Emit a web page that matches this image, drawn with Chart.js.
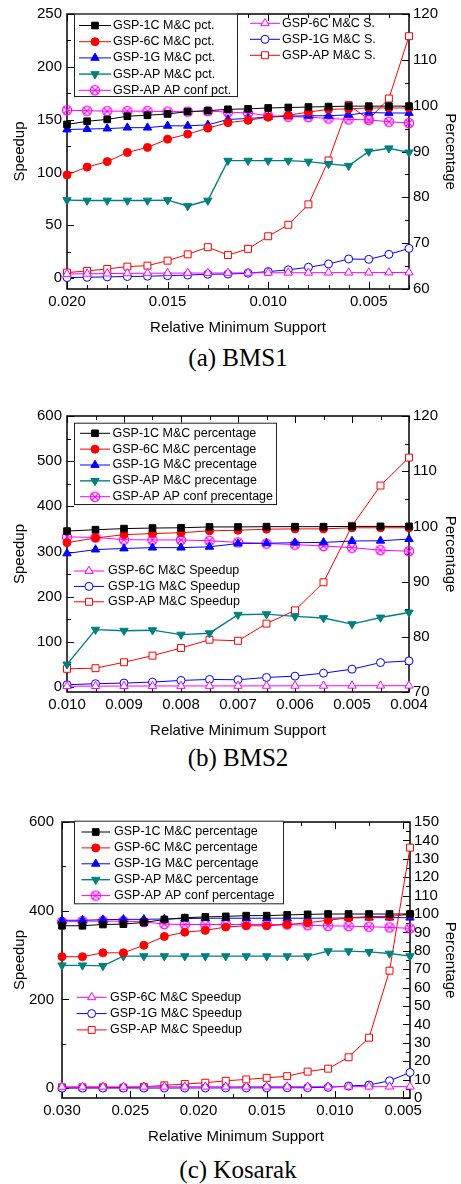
<!DOCTYPE html>
<html lang="en">
<head>
<meta charset="utf-8" />
<title>Speedup and percentage vs relative minimum support</title>
<script src="https://cdn.jsdelivr.net/npm/chart.js@4.4.0/dist/chart.umd.min.js"></script>
<style>
  body { margin: 0; background: #fff; width: 461px; height: 1184px; position: relative; overflow: hidden; }
  canvas { position: absolute; left: 0; }
  .caption {
    position: absolute; left: 0; width: 476px; text-align: center;
    font-family: "Liberation Serif", serif; font-size: 25px; line-height: 30px; color: #000;
  }
</style>
</head>
<body>
  <canvas id="chartA" width="461" height="340" style="top:0px"></canvas>
  <div class="caption" style="top:343px">(a) BMS1</div>
  <canvas id="chartB" width="461" height="341" style="top:402px"></canvas>
  <div class="caption" style="top:743px">(b) BMS2</div>
  <canvas id="chartC" width="461" height="344" style="top:805px"></canvas>
  <div class="caption" style="top:1155px">(c) Kosarak</div>

<script>
// ---------- (a) BMS1 ----------
const xA = [0.020, 0.019, 0.018, 0.017, 0.016, 0.015, 0.014, 0.013, 0.012, 0.011, 0.010, 0.009, 0.008, 0.007, 0.006, 0.005, 0.004, 0.003];
const a1C   = [95.9, 96.6, 97.0, 97.7, 97.9, 98.2, 98.7, 98.9, 99.2, 99.3, 99.5, 99.6, 99.7, 99.8, 99.9, 99.9, 99.9, 99.9];
const a6C   = [84.9, 86.6, 87.8, 89.8, 90.9, 92.7, 93.8, 95.1, 96.3, 96.8, 97.5, 97.9, 98.6, 99.2, 99.3, 99.5, 99.5, 99.5];
const a1G   = [94.8, 94.9, 95.0, 95.2, 95.2, 95.6, 95.6, 95.8, 97.0, 97.2, 97.5, 97.7, 97.8, 97.8, 98.0, 98.5, 98.4, 98.4];
const aAP   = [79.4, 79.3, 79.3, 79.3, 79.3, 79.4, 78.1, 79.3, 88.0, 88.0, 88.0, 88.0, 87.8, 87.3, 86.9, 90.0, 90.7, 89.8];
const aConf = [99.0, 98.9, 98.8, 98.8, 98.8, 98.7, 98.7, 98.8, 98.6, 98.4, 97.8, 97.6, 97.5, 97.2, 97.0, 96.9, 96.5, 96.2];
const a6Cs  = [3.9, 4.1, 4.3, 4.5, 4.6, 4.7, 4.8, 4.8, 4.9, 5.0, 5.0, 5.1, 5.1, 5.2, 5.2, 5.2, 5.3, 5.3];
const a1Gs  = [0.5, 0.8, 1.2, 1.5, 1.8, 2.3, 2.9, 3.7, 3.8, 4.7, 6.2, 7.8, 10.3, 13.4, 18.1, 17.8, 22.5, 28.1];
const aAPs  = [5.2, 6.8, 8.7, 10.9, 11.8, 16.5, 22.5, 29.3, 21.8, 27.7, 39.6, 50.5, 69.8, 111.4, 163.8, 150.3, 170.0, 229.0];
const labelsA = ["GSP-1C M&C pct.", "GSP-6C M&C pct.", "GSP-1G M&C pct.", "GSP-AP M&C pct.", "GSP-AP AP conf pct.",
                 "GSP-6C M&C S.", "GSP-1G M&C S.", "GSP-AP M&C S."];
const xTicksA = [0.020, 0.015, 0.010, 0.005];
const yTicksA = [0, 50, 100, 150, 200, 250];
const y1TicksA = [60, 70, 80, 90, 100, 110, 120];

// ---------- (b) BMS2 ----------
const xB = [0.010, 0.0095, 0.009, 0.0085, 0.008, 0.0075, 0.007, 0.0065, 0.006, 0.0055, 0.005, 0.0045, 0.004];
const b1C   = [99.15, 99.4, 99.6, 99.7, 99.75, 99.9, 99.9, 99.95, 99.95, 99.95, 100.0, 100.0, 100.0];
const b6C   = [97.05, 97.9, 98.5, 98.7, 98.85, 99.2, 99.3, 99.5, 99.55, 99.55, 99.75, 99.75, 99.75];
const b1G   = [95.1, 95.8, 96.0, 96.15, 96.15, 96.3, 96.9, 96.95, 97.05, 97.1, 97.35, 97.4, 97.7];
const bAP   = [75.0, 81.3, 81.1, 81.2, 80.4, 80.65, 84.0, 84.1, 83.7, 83.4, 82.3, 83.5, 84.4];
const bConf = [98.1, 98.0, 97.6, 97.55, 97.55, 97.4, 97.1, 96.9, 96.7, 96.45, 96.15, 95.7, 95.5];
const b6Cs  = [1.8, 2.0, 2.1, 2.3, 2.4, 2.4, 2.5, 2.6, 2.7, 2.8, 2.9, 3.0, 3.0];
const b1Gs  = [5.1, 7.3, 8.8, 11.0, 14.6, 16.8, 16.1, 21.2, 24.1, 30.7, 39.5, 54.2, 57.8];
const bAPs  = [40.3, 41.7, 54.8, 69.5, 86.4, 104.6, 102.4, 140.4, 169.7, 231.8, 356.8, 446.0, 508.0];
const labelsB = ["GSP-1C M&C percentage", "GSP-6C M&C percentage", "GSP-1G M&C precentage", "GSP-AP M&C precentage",
                 "GSP-AP AP conf precentage", "GSP-6C M&C Speedup", "GSP-1G M&C Speedup", "GSP-AP M&C Speedup"];
const xTicksB = [0.010, 0.009, 0.008, 0.007, 0.006, 0.005, 0.004];
const yTicksB = [0, 100, 200, 300, 400, 500, 600];
const y1TicksB = [70, 80, 90, 100, 110, 120];

// ---------- (c) Kosarak ----------
const xC = [0.030, 0.0285, 0.027, 0.0255, 0.024, 0.0225, 0.021, 0.0195, 0.018, 0.0165, 0.015, 0.0135, 0.012, 0.0105, 0.009, 0.0075, 0.006, 0.0045];
const c1C   = [93.6, 93.6, 94.3, 94.5, 95.4, 97.0, 98.0, 98.4, 98.7, 99.1, 99.1, 99.5, 99.8, 100.0, 100.0, 100.0, 100.0, 100.0];
const c6C   = [76.8, 76.8, 78.9, 78.9, 83.0, 87.8, 90.1, 91.1, 92.9, 93.6, 93.6, 94.3, 95.2, 96.6, 97.9, 98.6, 98.7, 99.8];
const c1G   = [96.6, 96.6, 96.9, 97.1, 97.1, 97.3, 97.5, 97.7, 97.7, 97.7, 97.7, 97.7, 97.7, 97.7, 97.9, 98.0, 98.0, 98.0];
const cAP   = [72.1, 72.1, 71.8, 77.1, 77.1, 77.1, 77.1, 77.1, 77.1, 77.1, 77.1, 77.1, 77.1, 79.8, 79.8, 79.4, 78.5, 77.1];
const cConf = [95.7, 96.1, 96.1, 96.1, 95.7, 94.5, 94.3, 94.3, 94.3, 94.3, 94.3, 94.3, 93.9, 93.6, 93.4, 93.1, 92.7, 92.2];
const c6Cs  = [3.0, 3.1, 3.1, 3.2, 3.2, 3.3, 3.3, 3.4, 3.4, 3.4, 3.5, 3.5, 3.5, 3.5, 3.6, 3.6, 3.6, 3.6];
const c1Gs  = [0.3, 0.3, 0.4, 0.4, 0.5, 0.5, 0.6, 0.6, 0.7, 0.8, 0.9, 1.0, 1.2, 2.0, 5.0, 7.3, 16.8, 35.5];
const cAPs  = [2.2, 2.2, 2.2, 1.5, 2.9, 6.6, 9.5, 12.4, 16.8, 19.8, 23.4, 27.2, 37.5, 44.1, 69.8, 113.9, 264.9, 542.2];
const labelsC = ["GSP-1C M&C percentage", "GSP-6C M&C percentage", "GSP-1G M&C percentage", "GSP-AP M&C percentage",
                 "GSP-AP AP conf percentage", "GSP-6C M&C Speedup", "GSP-1G M&C Speedup", "GSP-AP M&C Speedup"];
const xTicksC = [0.030, 0.025, 0.020, 0.015, 0.010, 0.005];
const yTicksC = [0, 200, 400, 600];
const y1TicksC = [0, 10, 20, 30, 40, 50, 60, 70, 80, 90, 100, 110, 120, 130, 140, 150];

// circle with an X inside, gnuplot style marker
const xcirc = document.createElement("canvas");
xcirc.width = 12;
xcirc.height = 12;
(() => {
  const g = xcirc.getContext("2d");
  g.strokeStyle = "#ff00ff";
  g.lineWidth = 1.2;
  g.beginPath();
  g.arc(6, 6, 4.6, 0, Math.PI * 2);
  g.stroke();
  g.beginPath();
  g.moveTo(2.7, 2.7); g.lineTo(9.3, 9.3);
  g.moveTo(9.3, 2.7); g.lineTo(2.7, 9.3);
  g.stroke();
})();

// order: 1C pct, 6C pct, 1G pct, AP pct, AP conf pct, 6C S, 1G S, AP S
const styles = [
  { color: "#000000", bg: "#000000", point: "rect", r: 4.7, rot: 0, axis: "y1" },
  { color: "#ff0000", bg: "#ff0000", point: "circle", r: 4, rot: 0, axis: "y1" },
  { color: "#0000ff", bg: "#0000ff", point: "triangle", r: 4.8, rot: 0, axis: "y1" },
  { color: "#008080", bg: "#008080", point: "triangle", r: 4.8, rot: 180, axis: "y1" },
  { color: "#ff00ff", bg: "#ffffff", point: xcirc, r: 5, rot: 0, axis: "y1" },
  { color: "#ff00ff", bg: "#ffffff", point: "triangle", r: 4.8, rot: 0, axis: "y" },
  { color: "#0000ff", bg: "#ffffff", point: "circle", r: 4, rot: 0, axis: "y" },
  { color: "#ff0000", bg: "#ffffff", point: "rect", r: 4.9, rot: 0, axis: "y" },
];

// legend placement (canvas px)
const legendLayout = {
  chartA: [
    { box: [74, 13.7, 163, 82.3], x0: 79, x1: 111, tx: 113, y0: 25.5, dy: 16.2, sets: [0, 1, 2, 3, 4] },
    { x0: 250, x1: 280, tx: 282, y0: 23.3, dy: 16, sets: [5, 6, 7] },
  ],
  chartB: [
    { box: [74, 20.7, 202, 81.3], x0: 80, x1: 110, tx: 112.5, y0: 31.3, dy: 15.85, sets: [0, 1, 2, 3, 4] },
    { x0: 74, x1: 104, tx: 108, y0: 169, dy: 15.4, sets: [5, 6, 7] },
  ],
  chartC: [
    { box: [74, 15.7, 209, 82.6], x0: 81.5, x1: 110, tx: 114, y0: 27, dy: 15.9, sets: [0, 1, 2, 3, 4] },
    { x0: 76.7, x1: 106.7, tx: 110, y0: 192.3, dy: 16.3, sets: [5, 6, 7] },
  ],
};

const minorSteps = {
  chartA: { x: 0.001, y: 25, y1: 5 },
  chartB: { x: 0.0005, y: 50, y1: 5 },
  chartC: { x: 0.0025, y: 100, y1: 5 },
};

const eachStep = (min, max, step, fn) => {
  for (let k = Math.ceil(min / step - 1e-6); k * step <= max + 1e-9; k++) fn(k * step);
};

// frame + inward ticks on all sides
const frameTicks = {
  id: "frameTicks",
  beforeDatasetsDraw(chart) {
    const { ctx, chartArea: a, scales } = chart;
    const m = minorSteps[chart.canvas.id];
    ctx.save();
    ctx.strokeStyle = "#000";
    ctx.lineWidth = 1;
    ctx.beginPath();
    const xs = scales.x;
    const xTick = (v, len) => {
      const p = Math.round(xs.getPixelForValue(v)) + 0.5;
      ctx.moveTo(p, a.bottom); ctx.lineTo(p, a.bottom - len);
      ctx.moveTo(p, a.top); ctx.lineTo(p, a.top + len);
    };
    const yTick = (s, v, len, right) => {
      const p = Math.round(s.getPixelForValue(v)) + 0.5;
      if (right) { ctx.moveTo(a.right, p); ctx.lineTo(a.right - len, p); }
      else { ctx.moveTo(a.left, p); ctx.lineTo(a.left + len, p); }
    };
    eachStep(xs.min, xs.max, m.x, (v) => xTick(v, 4));
    xs.ticks.forEach((t) => xTick(t.value, 7));
    eachStep(scales.y.min, scales.y.max, m.y, (v) => yTick(scales.y, v, 4, false));
    scales.y.ticks.forEach((t) => yTick(scales.y, t.value, 7, false));
    eachStep(scales.y1.min, scales.y1.max, m.y1, (v) => yTick(scales.y1, v, 4, true));
    scales.y1.ticks.forEach((t) => yTick(scales.y1, t.value, 7, true));
    ctx.stroke();
    ctx.lineWidth = 1.5;
    ctx.strokeRect(a.left, a.top, a.right - a.left, a.bottom - a.top);
    ctx.restore();
  },
};

const boxLegend = {
  id: "boxLegend",
  afterDatasetsDraw(chart) {
    const ctx = chart.ctx;
    ctx.save();
    legendLayout[chart.canvas.id].forEach((g) => {
      if (g.box) {
        ctx.fillStyle = "#fff";
        ctx.fillRect(g.box[0], g.box[1], g.box[2], g.box[3]);
        ctx.strokeStyle = "#222";
        ctx.lineWidth = 1;
        ctx.strokeRect(g.box[0] + 0.5, g.box[1] + 0.5, g.box[2], g.box[3]);
      }
      g.sets.forEach((di, k) => {
        const ds = chart.data.datasets[di];
        const y = g.y0 + k * g.dy;
        ctx.strokeStyle = ds.borderColor;
        ctx.lineWidth = ds.borderWidth;
        ctx.beginPath();
        ctx.moveTo(g.x0, y);
        ctx.lineTo(g.x1, y);
        ctx.stroke();
        ctx.fillStyle = ds.pointBackgroundColor;
        ctx.lineWidth = 1;
        Chart.helpers.drawPoint(ctx, {
          pointStyle: ds.pointStyle, radius: ds.pointRadius,
          rotation: ds.pointRotation, borderWidth: 1,
        }, (g.x0 + g.x1) / 2, y);
        ctx.fillStyle = "#000";
        ctx.font = '12.5px "Liberation Sans", Arial, sans-serif';
        ctx.textBaseline = "middle";
        ctx.textAlign = "left";
        ctx.fillText(ds.label, g.tx, y);
      });
    });
    ctx.restore();
  },
};

Chart.defaults.font.family = '"Liberation Sans", Arial, sans-serif';
Chart.defaults.color = "#000";
Chart.defaults.animation = false;

const tickFont = { size: 15 };

let makePanel = (id, p) => {
  let datasets = p.series.map((ys, i) => {
    let s = styles[i];
    return {
      label: p.labels[i],
      data: p.xs.map((x, j) => ({ x: x, y: ys[j] })),
      yAxisID: s.axis,
      borderColor: s.color,
      backgroundColor: s.bg,
      pointBackgroundColor: s.bg,
      pointBorderColor: s.color,
      pointStyle: s.point,
      pointRadius: s.r,
      pointRotation: s.rot,
      pointBorderWidth: 1,
      borderWidth: i === 3 ? 1.4 : 1,
      tension: 0,
      clip: false,
    };
  });

  new Chart(document.getElementById(id), {
    type: "line",
    data: { datasets: datasets },
    plugins: [frameTicks, boxLegend],
    options: {
      responsive: false,
      events: [],
      layout: { padding: { top: 11, left: 0, right: 0, bottom: 0 } },
      plugins: { legend: { display: false }, tooltip: { enabled: false } },
      scales: {
        x: {
          type: "linear",
          reverse: true,
          min: p.xMin,
          max: p.xMax,
          afterBuildTicks: (s) => { s.ticks = p.xTicks.map((v) => ({ value: v })); },
          afterFit: (s) => { s.height = 51; },
          grid: { display: false, drawTicks: false },
          border: { display: false },
          ticks: { font: tickFont, padding: 4, maxRotation: 0, autoSkip: false, callback: (v) => Number(v).toFixed(3) },
          title: { display: true, text: "Relative Minimum Support", font: { size: 15 }, padding: { top: 0, bottom: 3 } },
        },
        y: {
          position: "left",
          min: p.yMin,
          max: p.yMax,
          afterBuildTicks: (s) => { s.ticks = p.yTicks.map((v) => ({ value: v })); },
          afterFit: (s) => { s.width = p.leftW; },
          grid: { display: false, drawTicks: false },
          border: { display: false },
          ticks: { font: tickFont, padding: p.leftPad, autoSkip: false, callback: (v) => String(v) },
          title: { display: true, text: "Speedup", font: { size: 15 }, padding: { top: 11, bottom: 0 } },
        },
        y1: {
          position: "right",
          min: p.y1Min,
          max: p.y1Max,
          afterBuildTicks: (s) => { s.ticks = p.y1Ticks.map((v) => ({ value: v })); },
          afterFit: (s) => { s.width = 461 - p.right; },
          grid: { display: false, drawTicks: false },
          border: { display: false },
          ticks: { font: tickFont, padding: 4, autoSkip: false, callback: (v) => String(v) },
          title: { display: true, text: "Percentage", font: { size: 15 }, padding: { top: 2, bottom: 0 } },
        },
      },
    },
  });
};

makePanel("chartA", {
  xs: xA, labels: labelsA,
  series: [a1C, a6C, a1G, aAP, aConf, a6Cs, a1Gs, aAPs],
  xMin: 0.003, xMax: 0.020, xTicks: xTicksA,
  yMin: -10.3, yMax: 250, yTicks: yTicksA,
  y1Min: 60, y1Max: 120, y1Ticks: y1TicksA,
  leftW: 67, leftPad: 5, right: 409,
});

makePanel("chartB", {
  xs: xB, labels: labelsB,
  series: [b1C, b6C, b1G, bAP, bConf, b6Cs, b1Gs, bAPs],
  xMin: 0.004, xMax: 0.010, xTicks: xTicksB,
  yMin: -11, yMax: 600, yTicks: yTicksB,
  y1Min: 70, y1Max: 120, y1Ticks: y1TicksB,
  leftW: 67, leftPad: 5, right: 409,
});

makePanel("chartC", {
  xs: xC, labels: labelsC,
  series: [c1C, c6C, c1G, cAP, cConf, c6Cs, c1Gs, cAPs],
  xMin: 0.0045, xMax: 0.030, xTicks: xTicksC,
  yMin: -22, yMax: 600, yTicks: yTicksC,
  y1Min: 0, y1Max: 150, y1Ticks: y1TicksC,
  leftW: 62, leftPad: 8, right: 410,
});
</script>
</body>
</html>
